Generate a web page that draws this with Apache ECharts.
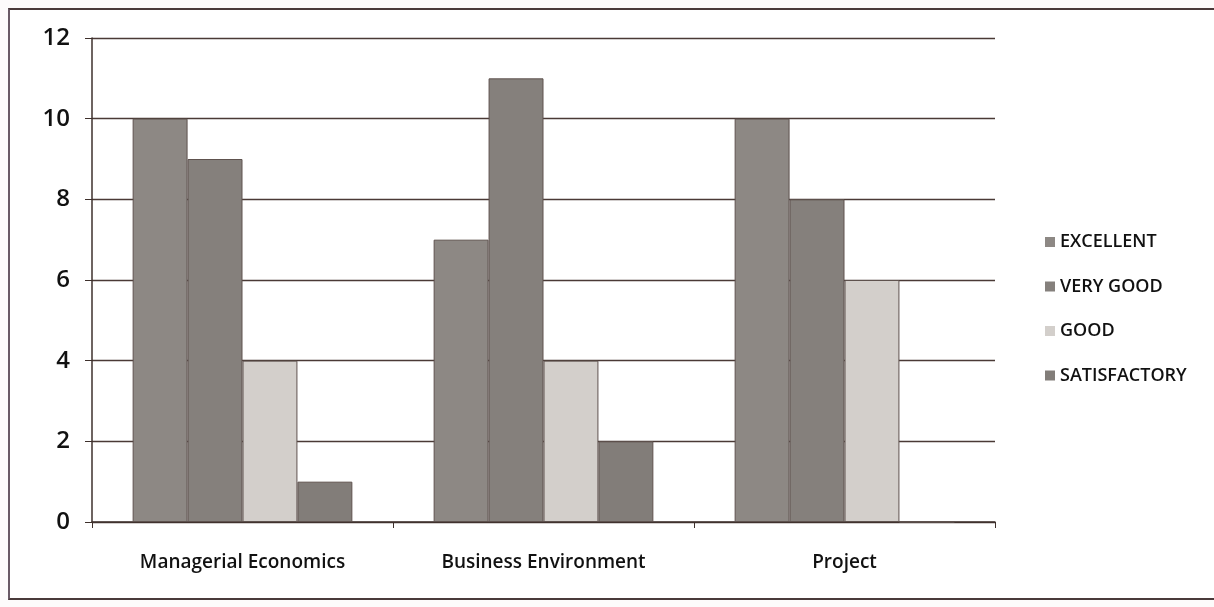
<!DOCTYPE html>
<html>
<head>
<meta charset="utf-8">
<script src="https://cdn.jsdelivr.net/npm/echarts@6/dist/echarts.min.js"></script>
<style>
  html, body { margin: 0; padding: 0; background: #fdfbfb; }
  #frame { position: absolute; left: 8px; top: 8px; width: 1206px; height: 592px; border-left: 2px solid #6a5a66; border-top: 2px solid #4a3a3a; border-bottom: 2px solid #4a3a3a; background: #ffffff; box-sizing: border-box; }
  #chart { position: absolute; left: 0; top: 0; width: 1214px; height: 607px; }
</style>
</head>
<body>
<div id="frame"></div>
<div id="chart"></div>
<script>
  // categories and series
  var categories = ['Managerial Economics', 'Business Environment', 'Project']
  var seriesNames = ['EXCELLENT', 'VERY GOOD', 'GOOD', 'SATISFACTORY']
  var excellent = [10, 7, 10]
  var veryGood = [9, 11, 8]
  var good = [4, 4, 6]
  var satisfactory = [1, 2, 0]
  var seriesColors = ['#8d8884', '#85807c', '#d3cfcb', '#827d79']

  var myChart = echarts.init(document.getElementById('chart'))
  var allData = [excellent, veryGood, good, satisfactory]

  var option = {
    backgroundColor: 'transparent',
    color: seriesColors,
    textStyle: { fontFamily: 'Open Sans', color: '#111' },
    grid: { left: 92, right: 219, top: 38, bottom: 85 },
    legend: {
      data: seriesNames,
      orient: 'vertical',
      left: 1040,
      top: 225,
      itemWidth: 10,
      itemHeight: 10,
      itemGap: 20.5,
      icon: 'rect',
      itemStyle: { borderWidth: 0 },
      textStyle: { fontSize: 18, fontWeight: 600, color: '#111', fontFamily: 'Open Sans', lineHeight: 24 }
    },
    xAxis: {
      type: 'category',
      data: categories,
      axisLine: { show: true, lineStyle: { color: '#3e302c', width: 1.5 } },
      axisTick: { show: true, alignWithLabel: false, length: 6, lineStyle: { color: '#3e302c' } },
      axisLabel: { fontSize: 19, fontWeight: 600, color: '#111', margin: 31 }
    },
    yAxis: {
      type: 'value',
      min: 0,
      max: 12,
      interval: 2,
      axisLine: { show: true, lineStyle: { color: '#3e302c', width: 1.5 } },
      axisTick: { show: true, length: 7, lineStyle: { color: '#3e302c' } },
      axisLabel: { fontSize: 24, fontWeight: 600, color: '#111', margin: 22 },
      splitLine: { show: true, lineStyle: { color: '#4a3a36', width: 1.3 } }
    },
    series: seriesNames.map(function (name, i) {
      return {
        name: name,
        type: 'bar',
        data: allData[i],
        barGap: 0,
        barCategoryGap: '27%',
        itemStyle: { color: seriesColors[i], borderColor: '#5e524e', borderWidth: 1 }
      }
    })
  }
  myChart.setOption(option)
</script>
</body>
</html>
